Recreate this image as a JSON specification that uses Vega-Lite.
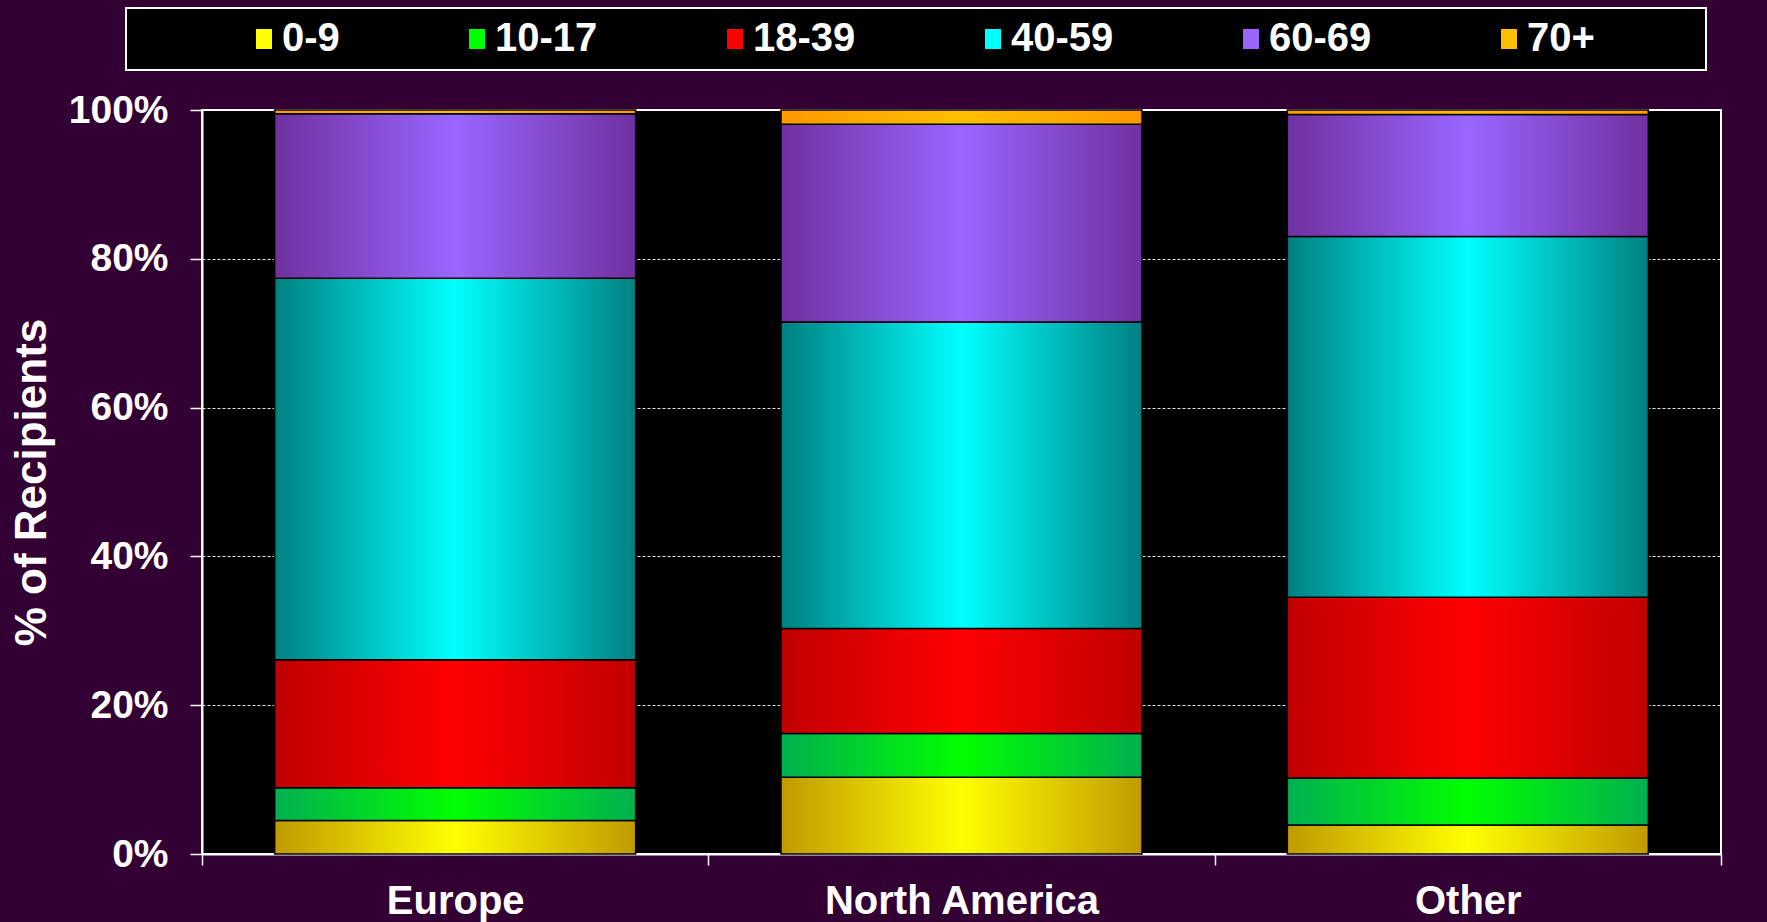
{
  "$schema": "https://vega.github.io/schema/vega-lite/v6.json",
  "width": 1519,
  "height": 744,
  "autosize": {"type": "none"},
  "padding": {"left": 202, "top": 110, "right": 46, "bottom": 68},
  "background": "#330033",
  "view": {"fill": "black", "stroke": "white", "strokeWidth": 2},
  "config": {"font": "Liberation Sans"},
  "data": {
    "values": [
      {"region": "Europe", "age": "0-9", "pct": 4.5},
      {"region": "Europe", "age": "10-17", "pct": 4.4},
      {"region": "Europe", "age": "18-39", "pct": 17.2},
      {"region": "Europe", "age": "40-59", "pct": 51.3},
      {"region": "Europe", "age": "60-69", "pct": 22.1},
      {"region": "Europe", "age": "70+", "pct": 0.5},
      {"region": "North America", "age": "0-9", "pct": 10.3},
      {"region": "North America", "age": "10-17", "pct": 5.9},
      {"region": "North America", "age": "18-39", "pct": 14.1},
      {"region": "North America", "age": "40-59", "pct": 41.2},
      {"region": "North America", "age": "60-69", "pct": 26.6},
      {"region": "North America", "age": "70+", "pct": 1.9},
      {"region": "Other", "age": "0-9", "pct": 3.9},
      {"region": "Other", "age": "10-17", "pct": 6.3},
      {"region": "Other", "age": "18-39", "pct": 24.3},
      {"region": "Other", "age": "40-59", "pct": 48.5},
      {"region": "Other", "age": "60-69", "pct": 16.4},
      {"region": "Other", "age": "70+", "pct": 0.6}
    ]
  },
  "transform": [
    {"stack": "pct", "groupby": ["region"], "sort": [{"field": "age", "order": "ascending"}], "offset": "normalize", "as": ["y0", "y1"]}
  ],
  "encoding": {
    "x": {
      "field": "region",
      "type": "nominal",
      "sort": null,
      "scale": {"paddingInner": 0, "paddingOuter": 0},
      "axis": {
        "title": null,
        "labelAngle": 0,
        "labelFont": "Liberation Sans",
        "labelFontWeight": "bold",
        "labelFontSize": 40,
        "labelColor": "white",
        "labelPadding": 16,
        "labelLimit": 500,
        "tickBand": "extent",
        "tickColor": "white",
        "tickSize": 11,
        "tickWidth": 1.5,
        "domainColor": "white",
        "domainWidth": 2
      }
    },
    "y": {
      "field": "y0",
      "type": "quantitative",
      "scale": {"domain": [0, 1]},
      "axis": {
        "title": "% of Recipients",
        "titleFont": "Liberation Sans",
        "titleFontWeight": "bold",
        "titleFontSize": 44,
        "titleColor": "white",
        "titlePadding": 14,
        "values": [0, 0.2, 0.4, 0.6, 0.8, 1],
        "format": ".0%",
        "labelFont": "Liberation Sans",
        "labelFontWeight": "bold",
        "labelFontSize": 39,
        "labelColor": "white",
        "labelPadding": 22,
        "tickColor": "white",
        "tickSize": 12,
        "tickWidth": 1.5,
        "domainColor": "white",
        "domainWidth": 2,
        "grid": true,
        "gridColor": "white",
        "gridDash": [3, 2],
        "gridWidth": 1,
        "gridOpacity": 0.9
      }
    },
    "y2": {"field": "y1"}
  },
  "layer": [
    {
      "mark": {"type": "bar", "width": {"band": 0.713}},
      "encoding": {
        "color": {
          "field": "age",
          "type": "nominal",
          "scale": {
            "domain": ["0-9", "10-17", "18-39", "40-59", "60-69", "70+"],
            "range": ["#ffff00", "#00ff00", "#ff0000", "#00ffff", "#9966ff", "#ffc000"]
          },
          "legend": {
            "title": "\u00a0",
            "titleOrient": "right",
            "titlePadding": 100,
            "titleFontSize": 10,
            "orient": "none",
            "direction": "horizontal",
            "legendX": -76,
            "legendY": -102,
            "padding": 11,
            "fillColor": "black",
            "strokeColor": "white",
            "symbolType": "M-0.8,-1H0.8V1H-0.8Z",
            "symbolSize": 400,
            "symbolStrokeWidth": 0,
            "symbolOffset": 107,
            "labelOffset": -2,
            "columnPadding": 10,
            "labelFont": "Liberation Sans",
            "labelFontWeight": "bold",
            "labelFontSize": 40,
            "labelColor": "white",
            "labelLimit": 300,
            "encode": {
              "legend": {"update": {"strokeWidth": {"value": 2}}},
              "symbols": {"update": {"fill": {"signal": "datum.value === '0-9' ? {gradient: 'linear', x1: 0, y1: 0, x2: 1, y2: 0, stops: [{offset: 0, color: '#c09a00'}, {offset: 0.5, color: '#ffff00'}, {offset: 1, color: '#c09a00'}]} : datum.value === '10-17' ? {gradient: 'linear', x1: 0, y1: 0, x2: 1, y2: 0, stops: [{offset: 0, color: '#00b050'}, {offset: 0.5, color: '#00ff00'}, {offset: 1, color: '#00b050'}]} : datum.value === '18-39' ? {gradient: 'linear', x1: 0, y1: 0, x2: 1, y2: 0, stops: [{offset: 0, color: '#c00000'}, {offset: 0.5, color: '#ff0000'}, {offset: 1, color: '#c00000'}]} : datum.value === '40-59' ? {gradient: 'linear', x1: 0, y1: 0, x2: 1, y2: 0, stops: [{offset: 0, color: '#008080'}, {offset: 0.5, color: '#00ffff'}, {offset: 1, color: '#008080'}]} : datum.value === '60-69' ? {gradient: 'linear', x1: 0, y1: 0, x2: 1, y2: 0, stops: [{offset: 0, color: '#7030a0'}, {offset: 0.5, color: '#9966ff'}, {offset: 1, color: '#7030a0'}]} : {gradient: 'linear', x1: 0, y1: 0, x2: 1, y2: 0, stops: [{offset: 0, color: '#ff9900'}, {offset: 0.5, color: '#ffc000'}, {offset: 1, color: '#ff9900'}]}"}}}
            }
          }
        }
      }
    },
    {
      "transform": [{"filter": "datum.age === '0-9'"}],
      "mark": {"type": "bar", "width": {"band": 0.713}, "stroke": "black", "strokeWidth": 1.5, "fill": {"gradient": "linear", "x1": 0, "y1": 0, "x2": 1, "y2": 0, "stops": [{"offset": 0, "color": "#c09a00"}, {"offset": 0.5, "color": "#ffff00"}, {"offset": 1, "color": "#c09a00"}]}}
    },
    {
      "transform": [{"filter": "datum.age === '10-17'"}],
      "mark": {"type": "bar", "width": {"band": 0.713}, "stroke": "black", "strokeWidth": 1.5, "fill": {"gradient": "linear", "x1": 0, "y1": 0, "x2": 1, "y2": 0, "stops": [{"offset": 0, "color": "#00b050"}, {"offset": 0.5, "color": "#00ff00"}, {"offset": 1, "color": "#00b050"}]}}
    },
    {
      "transform": [{"filter": "datum.age === '18-39'"}],
      "mark": {"type": "bar", "width": {"band": 0.713}, "stroke": "black", "strokeWidth": 1.5, "fill": {"gradient": "linear", "x1": 0, "y1": 0, "x2": 1, "y2": 0, "stops": [{"offset": 0, "color": "#c00000"}, {"offset": 0.5, "color": "#ff0000"}, {"offset": 1, "color": "#c00000"}]}}
    },
    {
      "transform": [{"filter": "datum.age === '40-59'"}],
      "mark": {"type": "bar", "width": {"band": 0.713}, "stroke": "black", "strokeWidth": 1.5, "fill": {"gradient": "linear", "x1": 0, "y1": 0, "x2": 1, "y2": 0, "stops": [{"offset": 0, "color": "#008080"}, {"offset": 0.5, "color": "#00ffff"}, {"offset": 1, "color": "#008080"}]}}
    },
    {
      "transform": [{"filter": "datum.age === '60-69'"}],
      "mark": {"type": "bar", "width": {"band": 0.713}, "stroke": "black", "strokeWidth": 1.5, "fill": {"gradient": "linear", "x1": 0, "y1": 0, "x2": 1, "y2": 0, "stops": [{"offset": 0, "color": "#7030a0"}, {"offset": 0.5, "color": "#9966ff"}, {"offset": 1, "color": "#7030a0"}]}}
    },
    {
      "transform": [{"filter": "datum.age === '70+'"}],
      "mark": {"type": "bar", "width": {"band": 0.713}, "stroke": "black", "strokeWidth": 1.5, "fill": {"gradient": "linear", "x1": 0, "y1": 0, "x2": 1, "y2": 0, "stops": [{"offset": 0, "color": "#ff9900"}, {"offset": 0.5, "color": "#ffc000"}, {"offset": 1, "color": "#ff9900"}]}}
    }
  ]
}
